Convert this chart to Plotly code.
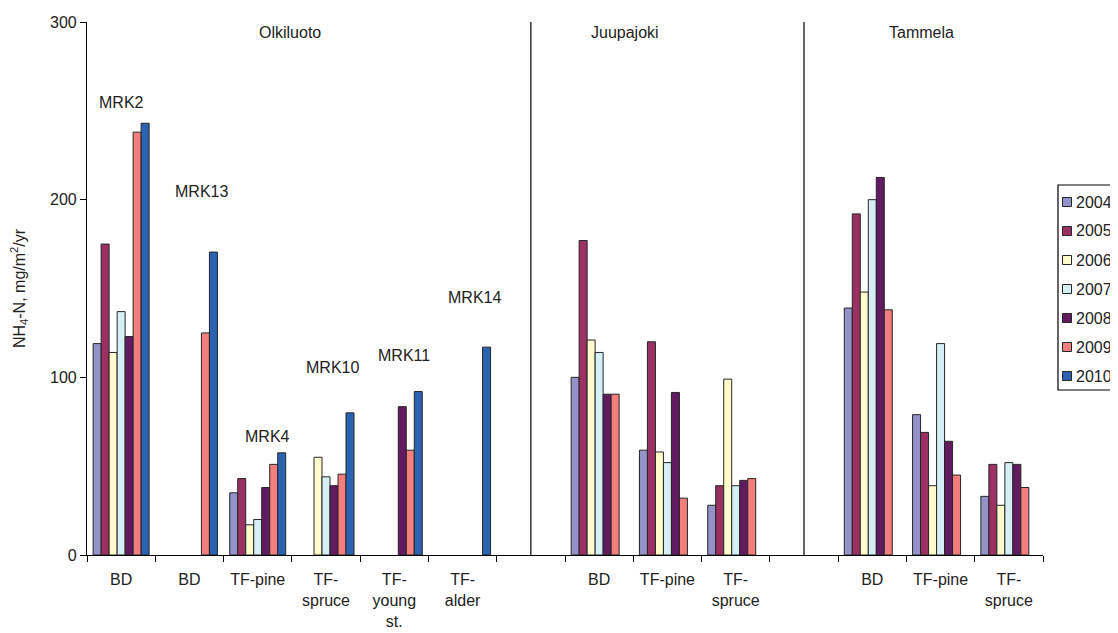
import plotly.graph_objects as go

# ---- data ----
categories = ["BD", "BD", "TF-pine", "TF-<br>spruce", "TF-<br>young<br>st.", "TF-<br>alder", "",
              "BD", "TF-pine", "TF-<br>spruce", "",
              "BD", "TF-pine", "TF-<br>spruce"]
years = ["2004", "2005", "2006", "2007", "2008", "2009", "2010"]
N = None
v2004 = [119, N, 35, N, N, N, N, 100, 59, 28, N, 139, 79, 33]
v2005 = [175, N, 43, N, N, N, N, 177, 120, 39, N, 192, 69, 51]
v2006 = [114, N, 17, 55, N, N, N, 121, 58, 99, N, 148, 39, 28]
v2007 = [137, N, 20, 44, N, N, N, 114, 52, 39, N, 200, 119, 52]
v2008 = [123, N, 38, 39, 83.5, N, N, 90.5, 91.5, 42, N, 212.5, 64, 51]
v2009 = [238, 125, 51, 45.5, 59, N, N, 90.5, 32, 43, N, 138, 45, 38]
v2010 = [243, 170.5, 57.5, 80, 92, 117, N, N, N, N, N, N, N, N]
series = [v2004, v2005, v2006, v2007, v2008, v2009, v2010]
colors = ["#9393C9", "#9B3163", "#FFFBCC", "#D5EFF5", "#621B60", "#F27E7E", "#2B63B2"]

site_labels = ["Olkiluoto", "Juupajoki", "Tammela"]
site_x = [2.47, 7.38, 11.72]
plot_labels = ["MRK2", "MRK13", "MRK4", "MRK10", "MRK11", "MRK14"]
plot_label_x = [0.0, 1.18, 2.14, 3.1, 4.14, 5.18]
plot_label_y = [254.5, 204.5, 66.6, 105.4, 112.5, 144.8]
dividers = [6, 10]

FONT = "Liberation Sans, Arial, sans-serif"
TXT = "#222222"
xs = list(range(len(categories)))

# page offset (body margin) compensation: plot area in screen px is 87..1043 x 22..555
W, H = 1118, 633
ML, MT, MR, MB = 79, 14, 83, 86
PX0, PX1, PY0, PY1 = 87.0, 1043.0, 22.0, 555.0


def px(xs_):
    return (xs_ - PX0) / (PX1 - PX0)


def py(ys_):
    return (PY1 - ys_) / (PY1 - PY0)


fig = go.Figure()
for yr, vals, col in zip(years, series, colors):
    fig.add_trace(go.Bar(
        x=xs, y=vals, name=yr, showlegend=False,
        marker=dict(color=col, line=dict(color="#262626", width=1)),
        xaxis="x", yaxis="y",
    ))

# invisible trace carrying the boundary tick marks axis
fig.add_trace(go.Scatter(x=[-0.5, 13.5], y=[0, 0], xaxis="x2", yaxis="y",
                         mode="markers", marker=dict(opacity=0), showlegend=False,
                         hoverinfo="skip"))

for xd in dividers:
    fig.add_shape(type="line", xref="x", yref="y", x0=xd, x1=xd, y0=0, y1=301,
                  line=dict(color="black", width=1.2))

for t, xv in zip(site_labels, site_x):
    fig.add_annotation(x=xv, y=294, xref="x", yref="y", text=t, showarrow=False,
                       font=dict(size=16, color=TXT, family=FONT))
for t, xv, yv in zip(plot_labels, plot_label_x, plot_label_y):
    fig.add_annotation(x=xv, y=yv, xref="x", yref="y", text=t, showarrow=False,
                       font=dict(size=16, color=TXT, family=FONT))

# legend (drawn manually so that it matches the clipped box of the reference)
fig.add_shape(type="rect", xref="paper", yref="paper",
              x0=px(1058), x1=px(1150), y0=py(390), y1=py(185),
              line=dict(color="black", width=1.2), fillcolor="white", layer="above")
for i, (yr, col) in enumerate(zip(years, colors)):
    cy = 202 + 29 * i
    fig.add_shape(type="rect", xref="paper", yref="paper",
                  x0=px(1062.5), x1=px(1071.5), y0=py(cy + 4.5), y1=py(cy - 4.5),
                  line=dict(color="#262626", width=1), fillcolor=col, layer="above")
    fig.add_annotation(x=px(1074), y=py(cy), xref="paper", yref="paper", text=yr,
                       showarrow=False, xanchor="left", yanchor="middle",
                       font=dict(size=16, color=TXT, family=FONT))

fig.update_layout(
    width=W, height=H,
    margin=dict(l=ML, r=MR, t=MT, b=MB, autoexpand=False),
    paper_bgcolor="white", plot_bgcolor="white",
    barmode="group", bargap=0.18, bargroupgap=0,
    font=dict(family=FONT, size=16, color=TXT),
    showlegend=False,
    xaxis=dict(range=[-0.5, 13.5], tickmode="array", tickvals=xs, ticktext=categories,
               ticks="", showgrid=False, zeroline=False, showline=True,
               linecolor="black", linewidth=1.2, tickfont=dict(size=16, family=FONT, color=TXT),
               ticklabelstandoff=10, fixedrange=True),
    xaxis2=dict(range=[-0.5, 13.5], overlaying="x", anchor="y", side="bottom",
                tickmode="array", tickvals=[i - 0.5 for i in range(15)],
                showticklabels=False, ticks="outside", ticklen=6, tickwidth=1.2,
                tickcolor="black", showgrid=False, zeroline=False, showline=False),
    yaxis=dict(range=[0, 300], tickmode="array", tickvals=[0, 100, 200, 300],
               ticks="outside", ticklen=6, tickwidth=1.2, tickcolor="black",
               showgrid=False, zeroline=False, showline=True, linecolor="black",
               linewidth=1.2, tickfont=dict(size=16, family=FONT, color=TXT),
               title=dict(text="NH<sub>4</sub>-N, mg/m<sup>2</sup>/yr",
                          font=dict(size=16, family=FONT, color=TXT), standoff=21)),
)

fig.write_html("out.html")
